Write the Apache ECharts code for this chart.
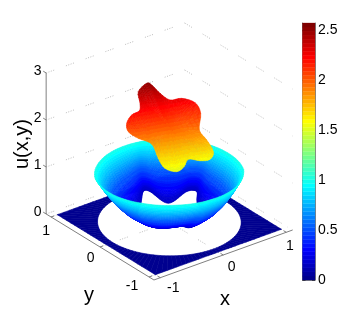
<!DOCTYPE html>
<html><head><meta charset="utf-8">
<style>html,body{margin:0;padding:0;background:#fff}#c{width:360px;height:315px}</style>
<script src="https://cdn.jsdelivr.net/npm/echarts@6/dist/echarts.min.js"></script>
</head><body><div id="c"></div>
<script>
// ---- data ----
var xTicks = [-1, 0, 1];
var yTicks = [-1, 0, 1];
var zTicks = [0, 1, 2, 3];
var cbTicks = [0, 0.5, 1, 1.5, 2, 2.5];
var uMax = 2.57;
var domainHalf = 1;
var axisHalf = 1.1;
var floorHoleRadius = 0.9;
var floorU = 0;
// top sheet boundary (x, y, u)
var topX = [0.116,-0.051,-0.127,-0.197,-0.321,-0.447,-0.498,-0.438,-0.330,-0.372,-0.378,-0.271,-0.146,-0.034,0.089,0.215,0.317,0.339,0.337,0.489,0.513,0.394,0.246,0.186,0.160];
var topY = [0.612,0.568,0.436,0.359,0.356,0.295,0.197,0.071,-0.064,-0.252,-0.397,-0.498,-0.486,-0.431,-0.511,-0.553,-0.490,-0.326,-0.178,-0.011,0.136,0.255,0.304,0.429,0.566];
var topU = [2.505,2.434,2.309,2.233,2.204,2.127,2.036,1.947,1.859,1.696,1.578,1.519,1.557,1.626,1.587,1.582,1.655,1.790,1.909,2.082,2.204,2.278,2.284,2.374,2.477];
var topCenterU = 1.99;
// bowl inner boundary (x, y) and its height
var innerX = [-0.087,0.120,0.187,0.180,0.554,0.654,0.470,0.340,0.020,-0.071,-0.272,-0.373,-0.313];
var innerY = [0.466,0.686,0.635,0.253,0.358,0.282,0.034,-0.290,-0.420,-0.329,-0.240,-0.085,0.237];
var innerU = 0.15;
// bowl rim radius every 30 degrees, rim height
var rimR = [0.93,0.93,0.93,0.93,0.93,0.94,0.90,0.85,0.83,0.85,0.90,0.94];
var rimU = 1.02;
// bowl wall profile: fraction across the wall -> fraction of the rise
var wallFrac = [0,0.2,0.4,0.6,0.8,1];
var wallRise = [0,0.10,0.24,0.44,0.70,1];

// ---- view: MATLAB default 3-D view fitted to the box ----
function proj(x,y,z){return [169.35+63*x-49*y, 222-22.7*x-30*y-47*z];}
function depth(x,y,z){return -0.50*x-0.66*y+0.34*z;}
function jet(i){var t=(i+1)/64;function c(v){v=Math.max(0,Math.min(1,v));return Math.round(v*255);}
  return 'rgb('+c(1.5-Math.abs(4*t-3))+','+c(1.5-Math.abs(4*t-2))+','+c(1.5-Math.abs(4*t-1))+')';}
function uColor(u){var i=Math.floor(u/uMax*64);return jet(Math.max(0,Math.min(63,i)));}
function closedSpline(xs,n){var out=[],m=xs.length;
  for(var i=0;i<m;i++){var p0=xs[(i+m-1)%m],p1=xs[i],p2=xs[(i+1)%m],p3=xs[(i+2)%m];
    for(var k=0;k<n;k++){var t=k/n;
      out.push(0.5*(2*p1+(p2-p0)*t+(2*p0-5*p1+4*p2-p3)*t*t+(3*p1-p0-3*p2+p3)*t*t*t));}}
  return out;}
function lerpTable(xs,ys,v){for(var i=1;i<xs.length;i++){if(v<=xs[i]){var f=(v-xs[i-1])/(xs[i]-xs[i-1]);return ys[i-1]+f*(ys[i]-ys[i-1]);}}return ys[ys.length-1];}

// ---- build cells ----
var floorCells=[],bowlCells=[],topCells=[];
(function(){
  var step=3;
  for(var a=0;a<360;a+=step){
    var r=[];[a,a+step].forEach(function(d){var t=d*Math.PI/180,c=Math.cos(t),s=Math.sin(t),m=Math.max(Math.abs(c),Math.abs(s));
      r.push([c*floorHoleRadius,s*floorHoleRadius,c/m*domainHalf,s/m*domainHalf]);});
    floorCells.push({pts:[[r[0][0],r[0][1],floorU],[r[0][2],r[0][3],floorU],[r[1][2],r[1][3],floorU],[r[1][0],r[1][1],floorU]],u:floorU});
  }
  // bowl
  var ix=closedSpline(innerX,12),iy=closedSpline(innerY,12),N=ix.length,R=30;
  var rimAngles=rimR.map(function(_,i){return i*30;}).concat([360]),rimVals=rimR.concat([rimR[0]]);
  function wall(i,j){i=i%N;var f=j/R,a=Math.atan2(iy[i],ix[i]),d=a*180/Math.PI;if(d<0)d+=360;
    var rr=lerpTable(rimAngles,rimVals,d),ox=rr*Math.cos(a),oy=rr*Math.sin(a);
    return [ix[i]+f*(ox-ix[i]),iy[i]+f*(oy-iy[i]),innerU+lerpTable(wallFrac,wallRise,f)*(rimU-innerU)];}
  for(var i=0;i<N;i++)for(var j=0;j<R;j++){
    var q=[wall(i,j),wall(i,j+1),wall(i+1,j+1),wall(i+1,j)];
    var mx=0,my=0,mz=0;q.forEach(function(p){mx+=p[0]/4;my+=p[1]/4;mz+=p[2]/4;});
    bowlCells.push({pts:q,u:mz,d:depth(mx,my,mz)});
  }
  bowlCells.sort(function(a,b){return a.d-b.d;});
  // top sheet
  var tx=closedSpline(topX,4),ty=closedSpline(topY,4),tu=closedSpline(topU,4),M=tx.length,K=24;
  function sheet(i,j){i=i%M;var f=j/K;return [tx[i]*f,ty[i]*f,topCenterU+f*(tu[i]-topCenterU)];}
  for(var a2=0;a2<M;a2++)for(var b=0;b<K;b++){
    var q2=[sheet(a2,b),sheet(a2,b+1),sheet(a2+1,b+1),sheet(a2+1,b)];
    topCells.push({pts:q2,u:(q2[0][2]+q2[1][2]+q2[2][2]+q2[3][2])/4});
  }
})();
var cells=floorCells.concat(bowlCells,topCells);

// ---- grid / box lines ----
var A=axisHalf,gridLines=[],axisLines=[];
zTicks.forEach(function(z){gridLines.push([[-A,A,z],[A,A,z]]);gridLines.push([[A,A,z],[A,-A,z]]);});
xTicks.forEach(function(x){gridLines.push([[x,-A,0],[x,A,0]]);});
yTicks.forEach(function(y){gridLines.push([[-A,y,0],[A,y,0]]);});
axisLines.push([[-A,A,0],[-A,A,3]]);
axisLines.push([[-A,A,0],[-A,-A,0]]);
axisLines.push([[-A,-A,0],[A,-A,0]]);
zTicks.forEach(function(z){axisLines.push([[-A,A,z],[-A,A+0.06,z]]);});
yTicks.forEach(function(y){axisLines.push([[-A,y,0],[-A+0.05,y,0]]);});
xTicks.forEach(function(x){axisLines.push([[x,-A,0],[x,-A+0.05,0]]);});

// ---- labels ----
var labels=[];
var yOff=[[-17,8.7],[-9.4,10.7],[-5,14]],xOff=[[13,10],[8.5,11.7],[3.75,13.4]];
zTicks.forEach(function(z){var p=proj(-A,A,z);labels.push({t:String(z),x:p[0]-8.5,y:p[1]-1.5,s:14});});
yTicks.forEach(function(y,i){var p=proj(-A,y,0);labels.push({t:String(y),x:p[0]+yOff[i][0],y:p[1]+yOff[i][1],s:14});});
xTicks.forEach(function(x,i){var p=proj(x,-A,0);labels.push({t:String(x),x:p[0]+xOff[i][0],y:p[1]+xOff[i][1],s:14});});
labels.push({t:'x',x:225,y:299,s:20});
labels.push({t:'y',x:89,y:295,s:20});
labels.push({t:'u(x,y)',x:22,y:144,s:20,r:Math.PI/2});

var cbCells=[];for(var ci=0;ci<64;ci++)cbCells.push([ci/64*uMax,(ci+1)/64*uMax,ci]);

var font='"Liberation Sans",Arial,sans-serif';
function pline(api,seg){var a=api.coord(proj.apply(null,seg[0])),b=api.coord(proj.apply(null,seg[1]));return {x1:a[0],y1:a[1],x2:b[0],y2:b[1]};}
var chart=echarts.init(document.getElementById('c'),null,{renderer:'canvas'});
chart.setOption({
  animation:false,backgroundColor:'#fff',
  grid:[{left:0,top:0,width:360,height:315,show:false},
        {left:302.5,top:23,width:12.5,height:257,show:false}],
  xAxis:[{gridIndex:0,type:'value',min:0,max:360,show:false},
         {gridIndex:1,type:'value',min:0,max:1,axisLabel:{show:false},axisTick:{show:false},splitLine:{show:false},
          axisLine:{show:true,onZero:false,lineStyle:{color:'#808080'}}},
         {gridIndex:1,type:'value',min:0,max:1,position:'top',axisLabel:{show:false},axisTick:{show:false},splitLine:{show:false},
          axisLine:{show:true,onZero:false,lineStyle:{color:'#808080'}}}],
  yAxis:[{gridIndex:0,type:'value',min:0,max:315,inverse:true,show:false},
         {gridIndex:1,type:'value',min:0,max:uMax,interval:0.5,position:'right',
          axisLine:{show:true,onZero:false,lineStyle:{color:'#808080'}},
          axisTick:{show:true,inside:true,length:3,lineStyle:{color:'#404040'}},
          splitLine:{show:false},
          axisLabel:{showMaxLabel:false,color:'#000',fontFamily:font,fontSize:14,margin:3,
            formatter:function(v){return cbTicks.indexOf(v)>=0?String(v):'';}}},
         {gridIndex:1,type:'value',min:0,max:uMax,interval:0.5,position:'left',
          axisLine:{show:true,onZero:false,lineStyle:{color:'#808080'}},
          axisTick:{show:true,inside:true,length:3,lineStyle:{color:'#404040'}},
          splitLine:{show:false},axisLabel:{show:false}}],
  series:[
   {type:'custom',xAxisIndex:0,yAxisIndex:0,coordinateSystem:'cartesian2d',silent:true,z:1,
    data:gridLines.map(function(_,i){return [i];}),
    renderItem:function(p,api){return {type:'line',shape:pline(api,gridLines[p.dataIndex]),
      style:{stroke:'#bdbdbd',lineWidth:1,lineDash:[1,1.5,1,1.5,1,1.5,1,12.5]}};}},
   {type:'custom',xAxisIndex:0,yAxisIndex:0,coordinateSystem:'cartesian2d',silent:true,z:2,progressive:0,
    data:cells.map(function(_,i){return [i];}),
    renderItem:function(p,api){var c=cells[p.dataIndex],col=uColor(c.u);
      return {type:'polygon',shape:{points:c.pts.map(function(q){return api.coord(proj(q[0],q[1],q[2]));})},
        style:{fill:col,stroke:col,lineWidth:0.6}};}},
   {type:'custom',xAxisIndex:0,yAxisIndex:0,coordinateSystem:'cartesian2d',silent:true,z:3,
    data:axisLines.map(function(_,i){return [i];}),
    renderItem:function(p,api){return {type:'line',shape:pline(api,axisLines[p.dataIndex]),
      style:{stroke:'#808080',lineWidth:1}};}},
   {type:'custom',xAxisIndex:0,yAxisIndex:0,coordinateSystem:'cartesian2d',silent:true,z:4,
    data:labels.map(function(_,i){return [i];}),
    renderItem:function(p,api){var l=labels[p.dataIndex],q=api.coord([l.x,l.y]);
      return {type:'text',x:q[0],y:q[1],rotation:l.r||0,
        style:{text:l.t,fontFamily:font,fontSize:l.s,fill:'#000',align:'center',verticalAlign:'middle'}};}},
   {type:'custom',xAxisIndex:1,yAxisIndex:1,coordinateSystem:'cartesian2d',silent:true,z:2,progressive:0,
    data:cbCells,
    renderItem:function(p,api){var a=api.coord([0,api.value(0)]),b=api.coord([1,api.value(1)]);
      return {type:'rect',shape:{x:a[0],y:b[1],width:b[0]-a[0],height:a[1]-b[1]},
        style:{fill:jet(api.value(2)),stroke:jet(api.value(2)),lineWidth:0.3}};}}
  ]
});
</script></body></html>
